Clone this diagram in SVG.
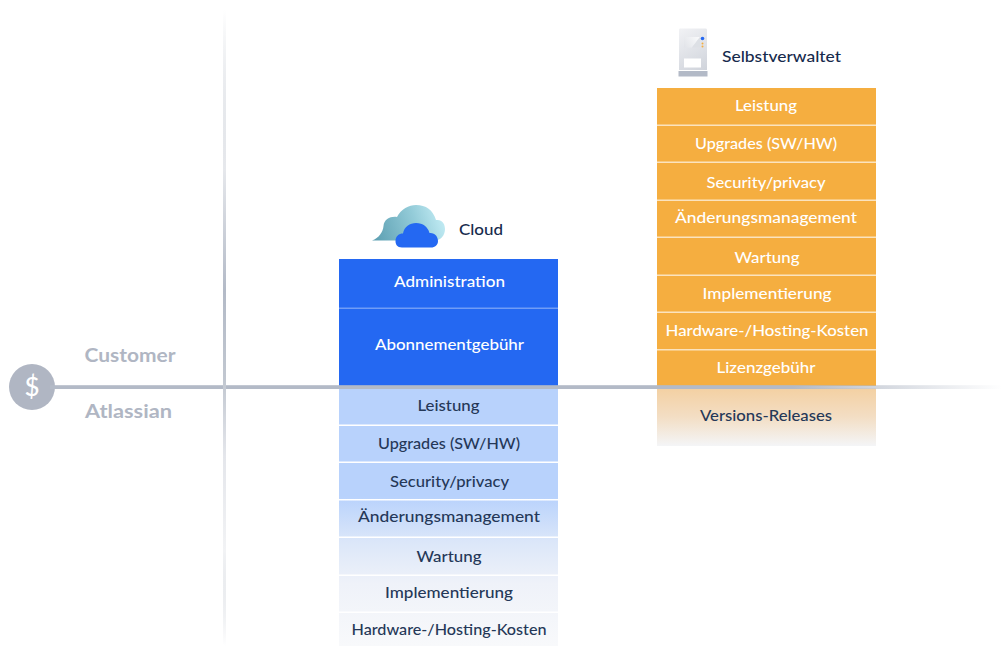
<svg xmlns="http://www.w3.org/2000/svg" width="1002" height="646" viewBox="0 0 1002 646">
<style>
text{font-family:"Lato","Noto Sans","Liberation Sans",sans-serif;font-weight:500;font-size:15.5px;text-anchor:middle}
.w{fill:#fff}.d{fill:#253858}.n{fill:#172B4D;font-weight:500;text-anchor:start}.g{fill:#B0B6C3;font-weight:700;font-size:18px}
.sep{fill:#fff;opacity:.35}.sl{fill:#fff}
</style>
<defs>
<linearGradient id="vl" x1="0" y1="10" x2="0" y2="646" gradientUnits="userSpaceOnUse"><stop offset="0" stop-color="#C1C7D0" stop-opacity="0"/><stop offset=".25" stop-color="#E6E8EC"/><stop offset=".44" stop-color="#B3BAC7"/><stop offset=".58" stop-color="#C1C7D0"/><stop offset=".7" stop-color="#E4E6EB"/><stop offset=".85" stop-color="#F2F3F5"/><stop offset="1" stop-color="#C1C7D0" stop-opacity="0"/></linearGradient>
<linearGradient id="hl" x1="50" y1="0" x2="1002" y2="0" gradientUnits="userSpaceOnUse"><stop offset="0" stop-color="#B3BAC7"/><stop offset=".78" stop-color="#B3BAC7"/><stop offset="1" stop-color="#B3BAC7" stop-opacity="0"/></linearGradient>
<linearGradient id="cb" x1="0" y1="388" x2="0" y2="646" gradientUnits="userSpaceOnUse"><stop offset="0" stop-color="#B8D2FC"/><stop offset=".42" stop-color="#B8D2FC"/><stop offset=".6" stop-color="#DCE7F9"/><stop offset=".76" stop-color="#EFF2F9"/><stop offset="1" stop-color="#F8F9FB"/></linearGradient>
<linearGradient id="ob" x1="0" y1="388" x2="0" y2="446" gradientUnits="userSpaceOnUse"><stop offset="0" stop-color="#F3D0A2"/><stop offset=".5" stop-color="#F3DEC4"/><stop offset="1" stop-color="#F4F5F7"/></linearGradient>
<linearGradient id="c1" x1="372" y1="240" x2="445" y2="215" gradientUnits="userSpaceOnUse"><stop offset="0" stop-color="#5A9DB0"/><stop offset=".6" stop-color="#93CBD8"/><stop offset="1" stop-color="#C5EEF6"/></linearGradient>
<linearGradient id="sv" x1="680" y1="30" x2="706" y2="75" gradientUnits="userSpaceOnUse"><stop offset="0" stop-color="#F0F1F4"/><stop offset="1" stop-color="#CDD1D9"/></linearGradient>
<linearGradient id="sp" x1="684" y1="48" x2="700" y2="37" gradientUnits="userSpaceOnUse"><stop offset="0" stop-color="#E1E3E8"/><stop offset="1" stop-color="#FAFBFC"/></linearGradient>
</defs>
<g id="axis-dollar"><circle cx="32" cy="387" r="23" fill="#B0B6C3"/><text x="32" y="396" class="w" style="font-size:26px;font-weight:500">$</text></g>
<g id="label-customer"><text x="130" y="362" class="g" textLength="91" lengthAdjust="spacingAndGlyphs">Customer</text></g>
<g id="label-atlassian"><text x="128.500" y="418" class="g" textLength="87" lengthAdjust="spacingAndGlyphs">Atlassian</text></g>
<g id="cloud-header">
<path d="M372 240.500C379 238 383 232 383.500 226C384 219 391 216 397 217C401 209 409 205 416 205C426 205 433 210 436 220C443 219 445 225 445 229C445 235 441 240 436 240.500Z" fill="url(#c1)"/>
<path d="M402 247.500C397 247.500 395.500 244 395.500 241C395.500 236 399 233.500 403 233.500C404 227 410 223 416 223C423 223 428 227 429.500 233C435 232.500 438 237 438 241C438 245 435 247.500 431 247.500Z" fill="#2468F2"/>
<text x="459" y="235" class="n" textLength="44" lengthAdjust="spacingAndGlyphs">Cloud</text>
</g>
<g id="self-header">
<path d="M680 28.500H706Q707 28.500 707 30V70H679V30Q679 28.500 680 28.500Z" fill="url(#sv)"/>
<rect x="678.500" y="71" width="29" height="5.500" fill="#B3BAC7"/>
<path d="M684 37H700L692 47.500H684Z" fill="url(#sp)"/>
<path d="M700 37V47.500H692Z" fill="#DDE0E5"/>
<rect x="684" y="58.500" width="17" height="9" fill="#fff"/>
<circle cx="702.500" cy="38.500" r="1.800" fill="#2468F2"/><circle cx="702.500" cy="43.500" r="1" fill="#F5AE40"/><circle cx="702.500" cy="46.500" r="1" fill="#F5AE40"/>
<text x="722" y="61.500" class="n" textLength="119" lengthAdjust="spacingAndGlyphs">Selbstverwaltet</text>
</g>
<g id="cloud-customer">
<rect x="339" y="259" width="219" height="127" fill="#2468F2"/>
<rect x="339" y="307.500" width="219" height="1.500" class="sep"/>
<text x="449.500" y="287" class="w" textLength="111" lengthAdjust="spacingAndGlyphs">Administration</text>
<text x="449.500" y="350" class="w" textLength="149" lengthAdjust="spacingAndGlyphs">Abonnementgebühr</text>
</g>
<g id="cloud-atlassian">
<rect x="339" y="388" width="219" height="258" fill="url(#cb)"/>
<rect x="339" y="424.500" width="219" height="1.500" class="sl"/><rect x="339" y="461.500" width="219" height="1.500" class="sl"/><rect x="339" y="499" width="219" height="1.500" class="sl"/><rect x="339" y="536.500" width="219" height="1.500" class="sl"/><rect x="339" y="574.500" width="219" height="1.500" class="sl"/><rect x="339" y="611.500" width="219" height="1.500" class="sl"/>
<text x="448.500" y="410.500" class="d" textLength="62" lengthAdjust="spacingAndGlyphs">Leistung</text>
<text x="449" y="449" class="d" textLength="142" lengthAdjust="spacingAndGlyphs">Upgrades (SW/HW)</text>
<text x="449.500" y="487" class="d" textLength="119" lengthAdjust="spacingAndGlyphs">Security/privacy</text>
<text x="449" y="522" class="d" textLength="182" lengthAdjust="spacingAndGlyphs">Änderungsmanagement</text>
<text x="449" y="562" class="d" textLength="65" lengthAdjust="spacingAndGlyphs">Wartung</text>
<text x="449" y="598" class="d" textLength="128" lengthAdjust="spacingAndGlyphs">Implementierung</text>
<text x="449" y="635" class="d" textLength="195" lengthAdjust="spacingAndGlyphs">Hardware-/Hosting-Kosten</text>
</g>
<g id="self-customer">
<rect x="657" y="88" width="219" height="298" fill="#F5AE40"/>
<rect x="657" y="124.500" width="219" height="1.500" fill="#FBE3BE"/><rect x="657" y="161.500" width="219" height="1.500" fill="#FBE3BE"/><rect x="657" y="199.500" width="219" height="1.500" fill="#FBE3BE"/><rect x="657" y="236.500" width="219" height="1.500" fill="#FBE3BE"/><rect x="657" y="274.500" width="219" height="1.500" fill="#FBE3BE"/><rect x="657" y="311.500" width="219" height="1.500" fill="#FBE3BE"/><rect x="657" y="349" width="219" height="1.500" fill="#FBE3BE"/>
<text x="766" y="110.500" class="w" textLength="62" lengthAdjust="spacingAndGlyphs">Leistung</text>
<text x="766" y="149" class="w" textLength="142" lengthAdjust="spacingAndGlyphs">Upgrades (SW/HW)</text>
<text x="766" y="188" class="w" textLength="119" lengthAdjust="spacingAndGlyphs">Security/privacy</text>
<text x="766" y="223" class="w" textLength="182" lengthAdjust="spacingAndGlyphs">Änderungsmanagement</text>
<text x="767" y="262.500" class="w" textLength="65" lengthAdjust="spacingAndGlyphs">Wartung</text>
<text x="767" y="298.500" class="w" textLength="129" lengthAdjust="spacingAndGlyphs">Implementierung</text>
<text x="767" y="336" class="w" textLength="203" lengthAdjust="spacingAndGlyphs">Hardware-/Hosting-Kosten</text>
<text x="766" y="372.500" class="w" textLength="99" lengthAdjust="spacingAndGlyphs">Lizenzgebühr</text>
</g>
<g id="self-atlassian">
<rect x="657" y="388.500" width="219" height="57.500" fill="url(#ob)"/>
<text x="766" y="421" class="d" textLength="132" lengthAdjust="spacingAndGlyphs">Versions-Releases</text>
</g>
<g id="connectors">
<rect x="50" y="385.200" width="952" height="3.800" fill="url(#hl)"/>
<rect x="223" y="10" width="3" height="636" fill="url(#vl)"/>
</g>
</svg>
